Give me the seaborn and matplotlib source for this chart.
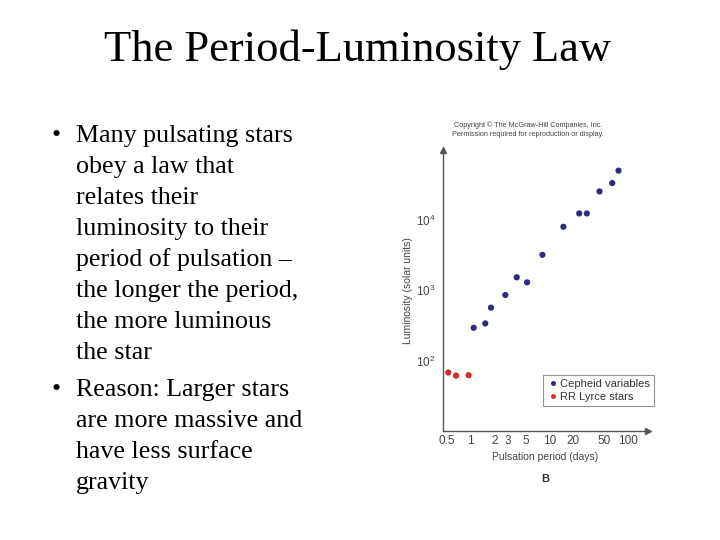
import pandas as pd
import matplotlib
matplotlib.use("Agg")
import matplotlib.pyplot as plt
import seaborn as sns

# ============================================
# DATA
# ============================================

cepheid_period = [1.09, 1.53, 1.81, 2.76, 3.85, 5.21, 8.17, 15.1, 24.0, 30.0, 43.5, 63.1, 75.9]
cepheid_lum = [293, 338, 566, 859, 1535, 1300, 3206, 8050, 12470, 12470, 25700, 33800, 50800]

rr_period = [0.518, 0.65, 0.94]
rr_lum = [67.4, 61.0, 61.8]

x_ticks = [0.5, 1, 2, 3, 5, 10, 20, 50, 100]
x_tick_labels = ["0.5", "1", "2", "3", "5", "10", "20", "50", "100"]
y_ticks = [100, 1000, 10000]
y_tick_labels = [r"$10^2$", r"$10^3$", r"$10^4$"]

title = "The Period-Luminosity Law"
bullet_1 = ["Many pulsating stars", "obey a law that", "relates their",
            "luminosity to their", "period of pulsation \u2013",
            "the longer the period,", "the more luminous", "the star"]
bullet_2 = ["Reason: Larger stars", "are more massive and",
            "have less surface", "gravity"]

# ============================================
# BUILD TABLE
# ============================================

df = pd.concat([
    pd.DataFrame({"period": cepheid_period, "lum": cepheid_lum,
                  "type": "Cepheid variables"}),
    pd.DataFrame({"period": rr_period, "lum": rr_lum,
                  "type": "RR Lyrce stars"}),
])

sns.set_style("white")
plt.rcParams["font.family"] = ["Liberation Sans", "DejaVu Sans"]
plt.rcParams["mathtext.default"] = "regular"
plt.rcParams["text.color"] = "black"

fig = plt.figure(figsize=(7.2, 5.4), dpi=100)

# --------------------------------------------
# SLIDE TEXT
# --------------------------------------------

serif = ["Liberation Serif", "DejaVu Serif"]

fig.text(358 / 720, 1 - 61 / 540, title, family=serif, fontsize=32,
         ha="center", va="baseline", color="black")

y0 = 141.7
for i, line in enumerate(bullet_1):
    fig.text(76 / 720, 1 - (y0 + 31 * i) / 540, line, family=serif,
             fontsize=18.7, va="baseline", color="black")
fig.text(52 / 720, 1 - y0 / 540, "\u2022", family=serif, fontsize=18.7,
         va="baseline", color="black")

y1 = 396
for i, line in enumerate(bullet_2):
    fig.text(76 / 720, 1 - (y1 + 31 * i) / 540, line, family=serif,
             fontsize=18.7, va="baseline", color="black")
fig.text(52 / 720, 1 - y1 / 540, "\u2022", family=serif, fontsize=18.7,
         va="baseline", color="black")

# --------------------------------------------
# CHART
# --------------------------------------------

ax = fig.add_axes([442.7 / 720, 1 - 430.7 / 540,
                   (648 - 442.7) / 720, (430.7 - 150) / 540])
ax.patch.set_alpha(0)

sns.scatterplot(
    data=df, x="period", y="lum", hue="type",
    palette={"Cepheid variables": "#2b2d7c", "RR Lyrce stars": "#d42a2e"},
    s=20, edgecolor="none", ax=ax
)

ax.set_xscale("log")
ax.set_yscale("log")
ax.set_xlim(0.44, 180)
ax.set_ylim(10, 1e5)

ax.set_xticks(x_ticks)
ax.set_xticklabels(x_tick_labels)
ax.set_yticks(y_ticks)
ax.set_yticklabels(y_tick_labels)
ax.minorticks_off()

grey = "#555555"
ax.tick_params(axis="x", direction="in", length=5, width=0.8, color=grey,
               labelsize=8.5, labelcolor="#444444", pad=3)
ax.tick_params(axis="y", direction="out", length=3, width=0.8, color=grey,
               labelsize=8.5, labelcolor="#444444", pad=2)

for side in ["top", "right"]:
    ax.spines[side].set_visible(False)
for side in ["left", "bottom"]:
    ax.spines[side].set_color(grey)
    ax.spines[side].set_linewidth(1.0)

ax.plot(1, 0, ">", color=grey, markersize=4,
        transform=ax.transAxes, clip_on=False)
ax.plot(0, 1, "^", color=grey, markersize=4,
        transform=ax.transAxes, clip_on=False)

ax.set_xlabel("Pulsation period (days)", fontsize=7.5, color="#444444",
              labelpad=4)
ax.set_ylabel("Luminosity (solar units)", fontsize=7.5, color="#444444",
              labelpad=2)

leg = ax.legend(
    loc="upper left", bbox_to_anchor=(0.489, 0.2), fontsize=8,
    frameon=True, fancybox=False, handletextpad=0.1, borderpad=0.4,
    labelspacing=0.25, handlelength=1.0, markerscale=0.8,
    borderaxespad=0
)
leg.get_frame().set_edgecolor("#777777")
leg.get_frame().set_linewidth(0.8)
for t in leg.get_texts():
    t.set_color("#333333")

fig.text(528 / 720, 1 - 125 / 540,
         "Copyright \u00a9 The McGraw-Hill Companies, Inc.",
         fontsize=5.2, color="#444444", ha="center", va="center")
fig.text(528 / 720, 1 - 135 / 540,
         "Permission required for reproduction or display.",
         fontsize=5.2, color="#444444", ha="center", va="center")

fig.text(545 / 720, 1 - 479 / 540, "B", fontsize=8, fontweight="bold",
         color="#333333", ha="center", va="center")

plt.savefig("out.png", dpi=100)
plt.close()
